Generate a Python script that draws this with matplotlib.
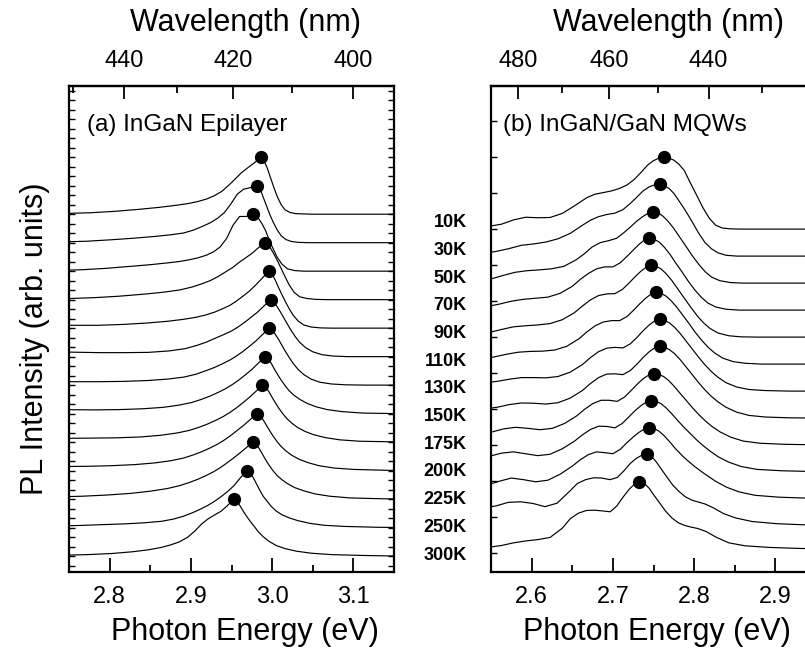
import numpy as np
import matplotlib
matplotlib.use("Agg")
import matplotlib.pyplot as plt
from matplotlib import font_manager
from matplotlib.ticker import MultipleLocator, FixedLocator, NullLocator


def pick(fams):
    for f in fams:
        try:
            font_manager.findfont(font_manager.FontProperties(family=f), fallback_to_default=False)
            return f
        except Exception:
            pass
    return "DejaVu Sans"


FONT = pick(["Liberation Sans", "Arial", "DejaVu Sans"])

# ---------------- data ----------------
temps = ["10K", "30K", "50K", "70K", "90K", "110K", "130K", "150K",
         "175K", "200K", "225K", "250K", "300K"]

# (a) InGaN epilayer: peak energies (eV), energy offsets from the peak (eV), PL intensity
a_peak = [2.986, 2.981, 2.976, 2.991, 2.996, 2.998, 2.996, 2.991, 2.988, 2.981, 2.976, 2.969, 2.953]
a_dE = [-0.25, -0.21, -0.18, -0.15, -0.125, -0.105, -0.09, -0.078, -0.067, -0.057, -0.048,
        -0.040, -0.032, -0.024, -0.016, -0.008, 0.0, 0.004, 0.008, 0.012, 0.016, 0.020,
        0.025, 0.030, 0.036, 0.043, 0.052, 0.063, 0.077, 0.095, 0.12, 0.16, 0.20]
a_I = [
    [0.02, 0.05, 0.10, 0.17, 0.24, 0.31, 0.37, 0.44, 0.53, 0.65, 0.80, 1.00, 1.22, 1.45, 1.63, 1.80, 2.00,
     1.88, 1.62, 1.28, 0.95, 0.64, 0.34, 0.15, 0.06, 0.02, 0.01, 0.00, 0.00, 0.00, 0.00, 0.00, 0.00],
    [0.02, 0.05, 0.10, 0.16, 0.22, 0.28, 0.34, 0.44, 0.57, 0.70, 0.86, 1.05, 1.35, 1.70, 1.88, 1.93, 2.00,
     1.90, 1.60, 1.30, 1.00, 0.74, 0.46, 0.25, 0.11, 0.04, 0.01, 0.00, 0.00, 0.00, 0.00, 0.00, 0.00],
    [0.02, 0.05, 0.10, 0.17, 0.23, 0.29, 0.34, 0.40, 0.47, 0.56, 0.68, 0.85, 1.15, 1.62, 1.92, 1.92, 2.00,
     1.95, 1.82, 1.64, 1.42, 1.12, 0.80, 0.50, 0.25, 0.08, 0.02, 0.00, 0.00, 0.00, 0.00, 0.00, 0.00],
    [0.03, 0.07, 0.12, 0.19, 0.26, 0.34, 0.44, 0.55, 0.67, 0.82, 0.98, 1.12, 1.30, 1.46, 1.62, 1.82, 2.00,
     1.92, 1.76, 1.56, 1.34, 1.10, 0.80, 0.52, 0.26, 0.10, 0.04, 0.01, 0.00, 0.00, 0.00, 0.00, 0.00],
    [0.10, 0.10, 0.13, 0.18, 0.24, 0.31, 0.38, 0.46, 0.56, 0.68, 0.80, 0.95, 1.12, 1.30, 1.52, 1.76, 2.00,
     1.90, 1.68, 1.42, 1.18, 0.95, 0.68, 0.45, 0.25, 0.11, 0.04, 0.01, 0.00, 0.00, 0.00, 0.00, 0.00],
    [0.16, 0.14, 0.14, 0.15, 0.20, 0.28, 0.40, 0.52, 0.66, 0.78, 0.90, 1.04, 1.20, 1.38, 1.56, 1.78, 2.00,
     1.92, 1.76, 1.58, 1.38, 1.18, 0.94, 0.72, 0.50, 0.32, 0.17, 0.07, 0.02, 0.00, 0.00, 0.00, 0.00],
    [0.12, 0.12, 0.13, 0.16, 0.21, 0.28, 0.38, 0.50, 0.62, 0.75, 0.88, 1.02, 1.18, 1.36, 1.55, 1.77, 2.00,
     1.93, 1.78, 1.60, 1.40, 1.20, 0.97, 0.76, 0.55, 0.37, 0.21, 0.10, 0.04, 0.01, 0.00, 0.00, 0.00],
    [0.14, 0.13, 0.14, 0.17, 0.22, 0.30, 0.39, 0.50, 0.62, 0.75, 0.88, 1.02, 1.18, 1.36, 1.55, 1.77, 2.00,
     1.93, 1.76, 1.55, 1.36, 1.18, 0.98, 0.80, 0.64, 0.50, 0.36, 0.24, 0.14, 0.07, 0.02, 0.00, 0.00],
    [0.13, 0.14, 0.15, 0.18, 0.24, 0.32, 0.41, 0.52, 0.64, 0.77, 0.90, 1.04, 1.20, 1.38, 1.57, 1.78, 2.00,
     1.93, 1.77, 1.57, 1.38, 1.20, 1.00, 0.83, 0.67, 0.52, 0.38, 0.26, 0.16, 0.08, 0.03, 0.01, 0.00],
    [0.14, 0.15, 0.17, 0.21, 0.27, 0.35, 0.44, 0.55, 0.67, 0.80, 0.93, 1.07, 1.23, 1.41, 1.59, 1.79, 2.00,
     1.93, 1.78, 1.59, 1.40, 1.22, 1.02, 0.85, 0.69, 0.54, 0.40, 0.28, 0.17, 0.09, 0.04, 0.01, 0.00],
    [0.07, 0.10, 0.14, 0.20, 0.28, 0.37, 0.47, 0.58, 0.70, 0.83, 0.96, 1.10, 1.26, 1.43, 1.61, 1.80, 2.00,
     1.93, 1.78, 1.58, 1.38, 1.20, 1.00, 0.83, 0.68, 0.54, 0.40, 0.29, 0.18, 0.10, 0.04, 0.01, 0.00],
    [0.05, 0.07, 0.10, 0.13, 0.17, 0.22, 0.30, 0.40, 0.52, 0.65, 0.78, 0.92, 1.08, 1.26, 1.47, 1.75, 2.00,
     1.92, 1.74, 1.52, 1.30, 1.10, 0.92, 0.74, 0.58, 0.45, 0.34, 0.24, 0.15, 0.08, 0.04, 0.01, 0.00],
    [0.01, 0.03, 0.05, 0.09, 0.15, 0.22, 0.30, 0.39, 0.50, 0.66, 0.88, 1.12, 1.30, 1.44, 1.57, 1.77, 2.00,
     1.92, 1.74, 1.55, 1.38, 1.22, 1.04, 0.85, 0.68, 0.52, 0.37, 0.26, 0.17, 0.10, 0.05, 0.02, 0.00],
]

# (b) InGaN/GaN MQWs
b_peak = [2.7627, 2.7574, 2.7496, 2.7450, 2.7475, 2.7533, 2.7574, 2.7574, 2.7504, 2.7475, 2.7450, 2.7414, 2.7327]
b_dE = [-0.22, -0.20, -0.185, -0.17, -0.155, -0.14, -0.125, -0.11, -0.095, -0.085, -0.075, -0.065,
        -0.055, -0.045, -0.036, -0.028, -0.020, -0.013, -0.006, 0.0, 0.006, 0.012, 0.018, 0.025,
        0.032, 0.040, 0.048, 0.056, 0.064, 0.072, 0.082, 0.095, 0.11, 0.13, 0.16, 0.20, 0.23]
b_I = [
    [0.08, 0.18, 0.34, 0.44, 0.42, 0.43, 0.58, 0.86, 1.16, 1.29, 1.35, 1.41, 1.50, 1.64, 1.85, 2.10, 2.37, 2.53, 2.63,
     2.66, 2.63, 2.56, 2.42, 2.18, 1.75, 1.28, 0.80, 0.40, 0.14, 0.04, 0.01, 0.00, 0.00, 0.00, 0.00, 0.00, 0.00],
    [0.08, 0.18, 0.28, 0.40, 0.45, 0.52, 0.64, 0.84, 1.14, 1.33, 1.46, 1.54, 1.59, 1.72, 1.95, 2.18, 2.42, 2.56, 2.64,
     2.66, 2.61, 2.50, 2.31, 2.00, 1.68, 1.28, 0.86, 0.50, 0.27, 0.12, 0.03, 0.00, 0.00, 0.00, 0.00, 0.00, 0.00],
    [0.05, 0.15, 0.28, 0.40, 0.46, 0.49, 0.53, 0.62, 0.86, 1.08, 1.34, 1.50, 1.57, 1.66, 1.87, 2.08, 2.30, 2.46, 2.59,
     2.64, 2.60, 2.48, 2.30, 2.04, 1.73, 1.38, 1.02, 0.70, 0.42, 0.22, 0.09, 0.02, 0.00, 0.00, 0.00, 0.00, 0.00],
    [0.06, 0.13, 0.22, 0.33, 0.40, 0.44, 0.48, 0.62, 0.88, 1.14, 1.36, 1.53, 1.60, 1.60, 1.75, 1.98, 2.22, 2.43, 2.60,
     2.67, 2.62, 2.52, 2.34, 2.08, 1.76, 1.42, 1.06, 0.74, 0.47, 0.26, 0.11, 0.03, 0.00, 0.00, 0.00, 0.00, 0.00],
    [0.10, 0.17, 0.28, 0.38, 0.42, 0.45, 0.50, 0.64, 0.90, 1.15, 1.38, 1.54, 1.60, 1.61, 1.76, 1.99, 2.24, 2.44, 2.60,
     2.66, 2.62, 2.52, 2.35, 2.10, 1.80, 1.46, 1.12, 0.80, 0.53, 0.32, 0.15, 0.05, 0.01, 0.00, 0.00, 0.00, 0.00],
    [0.20, 0.26, 0.36, 0.44, 0.47, 0.48, 0.52, 0.66, 0.94, 1.20, 1.42, 1.56, 1.61, 1.61, 1.76, 1.99, 2.24, 2.44, 2.60,
     2.66, 2.62, 2.52, 2.36, 2.12, 1.84, 1.52, 1.18, 0.88, 0.62, 0.41, 0.22, 0.09, 0.03, 0.00, 0.00, 0.00, 0.00],
    [0.30, 0.36, 0.44, 0.50, 0.50, 0.49, 0.54, 0.70, 0.98, 1.24, 1.46, 1.59, 1.62, 1.60, 1.75, 1.98, 2.24, 2.44, 2.60,
     2.66, 2.62, 2.53, 2.38, 2.15, 1.88, 1.57, 1.26, 0.97, 0.72, 0.51, 0.31, 0.15, 0.06, 0.02, 0.00, 0.00, 0.00],
    [0.33, 0.40, 0.50, 0.56, 0.55, 0.52, 0.57, 0.74, 1.02, 1.28, 1.50, 1.63, 1.64, 1.61, 1.76, 1.99, 2.25, 2.45, 2.60,
     2.66, 2.62, 2.54, 2.40, 2.18, 1.92, 1.62, 1.32, 1.04, 0.80, 0.60, 0.40, 0.22, 0.10, 0.04, 0.01, 0.00, 0.00],
    [0.42, 0.48, 0.60, 0.66, 0.62, 0.57, 0.62, 0.80, 1.08, 1.33, 1.54, 1.66, 1.66, 1.62, 1.78, 2.02, 2.27, 2.46, 2.60,
     2.65, 2.62, 2.54, 2.40, 2.18, 1.93, 1.65, 1.37, 1.11, 0.88, 0.68, 0.48, 0.29, 0.15, 0.07, 0.03, 0.01, 0.00],
    [0.50, 0.58, 0.70, 0.75, 0.68, 0.61, 0.66, 0.86, 1.14, 1.38, 1.58, 1.70, 1.69, 1.64, 1.80, 2.04, 2.28, 2.46, 2.60,
     2.65, 2.62, 2.53, 2.38, 2.16, 1.92, 1.66, 1.42, 1.18, 0.97, 0.78, 0.57, 0.37, 0.21, 0.10, 0.05, 0.02, 0.01],
    [0.46, 0.52, 0.66, 0.78, 0.72, 0.64, 0.70, 0.92, 1.22, 1.46, 1.65, 1.75, 1.72, 1.68, 1.84, 2.08, 2.30, 2.47, 2.60,
     2.65, 2.61, 2.51, 2.35, 2.12, 1.87, 1.62, 1.40, 1.20, 1.02, 0.85, 0.65, 0.44, 0.27, 0.14, 0.07, 0.03, 0.02],
    [0.62, 0.68, 0.75, 0.88, 0.90, 0.84, 0.72, 0.85, 1.28, 1.58, 1.72, 1.79, 1.78, 1.72, 1.80, 2.04, 2.32, 2.50, 2.62,
     2.66, 2.58, 2.38, 2.12, 1.82, 1.53, 1.28, 1.08, 0.96, 0.89, 0.82, 0.68, 0.46, 0.30, 0.17, 0.09, 0.04, 0.03],
    [0.15, 0.18, 0.22, 0.28, 0.38, 0.45, 0.50, 0.58, 0.92, 1.28, 1.48, 1.58, 1.59, 1.56, 1.53, 1.74, 2.08, 2.35, 2.56,
     2.64, 2.58, 2.40, 2.14, 1.85, 1.56, 1.30, 1.12, 1.02, 0.96, 0.91, 0.80, 0.58, 0.38, 0.27, 0.21, 0.17, 0.16],
]

a_ticks = [2.8, 2.9, 3.0, 3.1]
b_ticks = [2.6, 2.7, 2.8, 2.9]
a_nm_major = [440, 420, 400]
a_nm_minor = [450, 430, 410]
b_nm_major = [480, 460, 440]
b_nm_minor = [470, 450, 430]

HC = 1239.84


def ev2nm(x):
    x = np.asarray(x, dtype=float)
    with np.errstate(divide="ignore", invalid="ignore"):
        return HC / x


# ---------------- figure ----------------
W, H = 805, 650
plt.rcParams["font.family"] = [FONT, "DejaVu Sans"]
fig = plt.figure(figsize=(W / 100, H / 100), dpi=100)

ax_w = 325 / W
ax_h = 486 / H
ax_b = 1 - 572 / H
axA = fig.add_axes([69 / W, ax_b, ax_w, ax_h])
axB = fig.add_axes([491 / W, ax_b, ax_w, ax_h])

n = len(temps)
TICK_FS = 17
LAB_FS = 22


def style_axis(ax, xlim, ylim, ticks, nm_major, nm_minor, ystep, xlab_x):
    ax.set_xlim(*xlim)
    ax.set_ylim(*ylim)
    for s in ax.spines.values():
        s.set_linewidth(1.6)
    ax.xaxis.set_major_locator(FixedLocator(ticks))
    ax.xaxis.set_minor_locator(MultipleLocator(0.05))
    ax.set_xticklabels([f"{t:.1f}" for t in ticks])
    ax.tick_params(axis="x", which="major", direction="in", length=10, width=1.3,
                   labelsize=TICK_FS, pad=10, top=False)
    ax.tick_params(axis="x", which="minor", direction="in", length=5, width=1.3, top=False)
    ax.yaxis.set_major_locator(NullLocator())
    ax.yaxis.set_minor_locator(MultipleLocator(ystep))
    ax.tick_params(axis="y", which="minor", direction="in", length=4, width=1.0,
                   left=True, right=True)
    ax.set_xlabel("Photon Energy (eV)", fontsize=LAB_FS)
    ax.xaxis.set_label_coords(xlab_x, -0.123)
    ax.xaxis.label.set_va("center")

    sec = ax.secondary_xaxis("top", functions=(ev2nm, ev2nm))
    sec.xaxis.set_major_locator(FixedLocator(nm_major))
    sec.xaxis.set_minor_locator(FixedLocator(nm_minor))
    sec.set_xticklabels([str(v) for v in nm_major])
    sec.tick_params(axis="x", which="major", direction="in", length=9, width=1.3,
                    labelsize=TICK_FS, pad=10)
    sec.tick_params(axis="x", which="minor", direction="in", length=5, width=1.3)
    sec.spines["top"].set_linewidth(1.6)
    return sec


style_axis(axA, (2.75, 3.15), (-0.56, 16.5), a_ticks, a_nm_major, a_nm_minor, 1 / 3, 0.54)
style_axis(axB, (2.55, 2.95), (-0.70, 17.3), b_ticks, b_nm_major, b_nm_minor, 4 / 3, 0.51)

fig.text(245 / W, 1 - 23 / H, "Wavelength (nm)", fontsize=LAB_FS, ha="center", va="center")
fig.text(668 / W, 1 - 23 / H, "Wavelength (nm)", fontsize=LAB_FS, ha="center", va="center")

for ax, peaks, dE, Is in ((axA, a_peak, a_dE, a_I), (axB, b_peak, b_dE, b_I)):
    d = np.asarray(dE)
    k0 = int(np.argmin(np.abs(d)))
    for i in range(n):
        off = n - 1 - i
        e = peaks[i] + d
        y = np.asarray(Is[i]) + off
        ax.plot(e, y, color="black", lw=0.85, solid_joinstyle="round", clip_on=True)
        ax.plot([e[k0]], [y[k0]], "o", color="black", ms=8.5, zorder=5)

axA.text(0.054, 0.92, "(a) InGaN Epilayer", transform=axA.transAxes,
         fontsize=17.5, va="center", ha="left")
axB.text(0.037, 0.92, "(b) InGaN/GaN MQWs", transform=axB.transAxes,
         fontsize=17.5, va="center", ha="left")

axA.set_ylabel("PL Intensity (arb. units)", fontsize=LAB_FS)
axA.yaxis.set_label_coords(-0.105, 0.48)
axA.yaxis.label.set_va("center")

for i, t in enumerate(temps):
    ypx = 222.7 + 27.7 * i
    fig.text(466.7 / W, 1 - ypx / H, t, ha="right", va="center",
             fontsize=13, fontweight="bold")

fig.savefig("out.png", dpi=100)
